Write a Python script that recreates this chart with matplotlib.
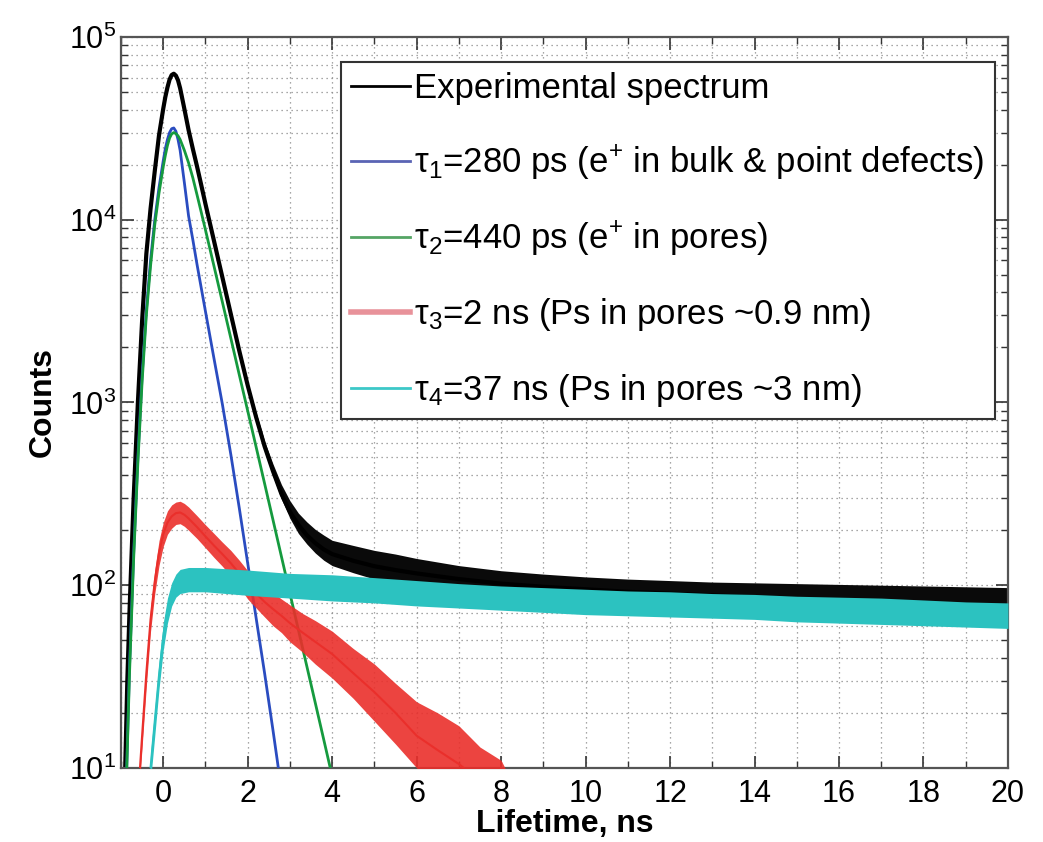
import matplotlib
matplotlib.use("Agg")
import matplotlib.pyplot as plt
from matplotlib.lines import Line2D
from matplotlib.ticker import MultipleLocator, LogLocator, NullFormatter

plt.rcParams["font.family"] = ["Liberation Sans", "DejaVu Sans"]
plt.rcParams["mathtext.fontset"] = "custom"
plt.rcParams["mathtext.rm"] = "Liberation Sans"
plt.rcParams["mathtext.it"] = "Liberation Sans:italic"
plt.rcParams["mathtext.bf"] = "Liberation Sans:bold"

# ── dados ────────────────────────────────────────────────────────────────────
# espectro experimental
t_exp = [-0.95, -0.9, -0.85, -0.8, -0.7, -0.6, -0.5, -0.4, -0.3, -0.2,
         -0.1, 0.0, 0.05, 0.1, 0.15, 0.2, 0.25, 0.3, 0.35, 0.4,
         0.5, 0.6, 0.7, 0.8, 0.9, 1.0, 1.2, 1.4, 1.6, 1.8,
         2.0, 2.2, 2.4, 2.6, 2.8, 3.0, 3.2, 3.4, 3.6, 3.8,
         4.0, 4.5, 5.0, 5.5, 6, 7, 8, 9, 10, 11,
         12, 13, 14, 15, 16, 17, 18, 19, 20]
counts_exp = [6, 10, 30, 70, 300, 1000, 2800, 6500, 11500, 18500,
              29000, 40500, 47000, 53000, 58500, 62000, 63000, 61500, 58000, 52500,
              40500, 31000, 24500, 19600, 15500, 12200, 7700, 4850, 3050, 1920,
              1240, 830, 575, 420, 315, 252, 214, 188, 170, 157,
              148, 136, 127, 121, 116, 108, 102, 98, 95, 92,
              90, 88, 86, 84, 82, 80, 78, 76, 74]
# faixa de ruído da cauda experimental
t_exp_tail = [2.2, 2.4, 2.6, 2.8, 3.0, 3.2, 3.4, 3.6, 3.8, 4.0, 4.5, 5.0, 5.5, 6.0,
              7.0, 8.0, 9.0, 10.0, 11.0, 12.0, 13.0, 14.0, 15.0, 16.0, 17.0, 18.0, 19.0, 20.0]
exp_tail_low = [790, 545, 395, 295, 232, 192, 168, 150, 137, 128, 117, 108, 102, 97,
                90, 85, 82, 79, 76, 74, 72, 70, 69, 68, 66, 64, 63, 61]
exp_tail_high = [880, 615, 460, 355, 290, 248, 222, 202, 188, 176, 165, 155, 148, 140,
                 128, 120, 115, 111, 108, 106, 104, 103, 102, 101, 100, 99, 98, 97]

# tau1 = 280 ps
t_tau1 = [-0.95, -0.9, -0.8, -0.7, -0.6, -0.5, -0.4, -0.3, -0.2, -0.1,
          0.0, 0.05, 0.1, 0.15, 0.2, 0.25, 0.3, 0.35, 0.4, 0.5,
          0.6, 0.7, 0.8, 1.0, 1.2, 1.4, 1.6, 1.8, 2.0, 2.2,
          2.4, 2.6, 2.7, 2.8]
counts_tau1 = [2, 5, 35, 150, 500, 1400, 3200, 6000, 10000, 15000,
               21000, 24500, 27500, 30000, 31500, 31800, 30500, 27500, 24000, 16000,
               10500, 7800, 5700, 3150, 1750, 980, 520, 265, 132, 66,
               33, 16, 11, 7.5]

# tau2 = 440 ps
t_tau2 = [-0.95, -0.9, -0.8, -0.7, -0.6, -0.5, -0.4, -0.3, -0.2, -0.1,
          0.0, 0.05, 0.1, 0.15, 0.2, 0.25, 0.3, 0.35, 0.4, 0.5,
          0.6, 0.7, 0.8, 0.9, 1.0, 1.2, 1.4, 1.6, 1.8, 2.0,
          2.2, 2.4, 2.6, 2.8, 3.0, 3.2, 3.4, 3.6, 3.8, 4.0]
counts_tau2 = [2, 5, 32, 140, 470, 1300, 3000, 5600, 9400, 14000,
               19500, 22500, 25500, 28000, 29500, 30000, 29600, 28800, 27500, 24000,
               20500, 17000, 13700, 11000, 8800, 5600, 3550, 2250, 1420, 900,
               570, 360, 227, 143, 90, 57, 36, 22.7, 14.3, 9]

# tau3 = 2 ns
t_tau3 = [-0.6, -0.55, -0.5, -0.4, -0.3, -0.2, -0.1, 0.0, 0.1, 0.2,
          0.3, 0.4, 0.5, 0.6, 0.8, 1.0, 1.2, 1.4, 1.6, 1.8,
          2.0, 2.2, 2.4, 2.6, 2.8, 3.0, 3.3, 3.6, 4.0, 4.5,
          5.0, 5.5, 6.0, 6.5, 7.0, 7.5, 8.0, 8.3]
counts_tau3 = [6, 10, 15, 33, 65, 105, 150, 190, 220, 238,
               248, 250, 243, 232, 208, 185, 165, 148, 132, 116,
               100, 90, 81, 74, 68, 62, 55, 49, 42, 33,
               26, 20, 15, 12.5, 10.5, 8.5, 6.5, 4.5]
tau3_low = [5, 9, 13, 28, 56, 90, 128, 163, 190, 205,
            215, 217, 210, 200, 180, 160, 142, 127, 112, 98,
            84, 75, 67, 60, 55, 49, 43, 37, 31, 24,
            18, 13.5, 10, 8, 6.5, 5, 3, 2]
tau3_high = [7, 11, 17, 38, 75, 122, 175, 220, 255, 275,
             285, 288, 280, 268, 240, 214, 192, 172, 155, 137,
             120, 108, 98, 91, 84, 78, 70, 64, 56, 45,
             37, 29, 23, 20, 17, 13, 11, 8]

# tau4 = 37 ns
t_tau4 = [-0.35, -0.3, -0.2, -0.1, 0.0, 0.1, 0.2, 0.3, 0.4, 0.6,
          1.0, 1.5, 2.0, 3.0, 4.0, 5.0, 6.0, 7.0, 8.0, 9.0,
          10.0, 11.0, 12.0, 13.0, 14.0, 15.0, 16.0, 17.0, 18.0, 19.0, 20.0]
counts_tau4 = [6, 10, 18, 32, 52, 72, 88, 98, 104, 107,
               107, 105, 103, 99, 96, 93, 90, 87, 85, 83,
               81, 79, 78, 77, 76, 74, 73, 72, 70, 69, 68]
tau4_low = [5, 8.5, 15, 27, 44, 62, 77, 86, 90, 92,
            92, 90, 88, 85, 82, 80, 77, 75, 73, 71,
            69, 68, 67, 66, 65, 63, 62, 61, 60, 59, 58]
tau4_high = [7, 12, 21, 38, 62, 85, 103, 115, 122, 125,
             125, 123, 121, 116, 114, 110, 106, 102, 99, 97,
             95, 93, 92, 90, 89, 87, 86, 85, 83, 81, 80]

labels = ["Experimental spectrum",
          "τ$_{1}$=280 ps (e$^{+}$ in bulk & point defects)",
          "τ$_{2}$=440 ps (e$^{+}$ in pores)",
          "τ$_{3}$=2 ns (Ps in pores ~0.9 nm)",
          "τ$_{4}$=37 ns (Ps in pores ~3 nm)"]

# ── cores ────────────────────────────────────────────────────────────────────
BLACK = "#000000"
BLUE = "#2a4cc0"
GREEN = "#159a3e"
RED = "#ea2f2b"
CYAN = "#2cc2c0"
LEG_COLORS = [BLACK, "#5a64b4", "#55a565", "#e8929a", "#3cc8c8"]

fig = plt.figure(figsize=(10.43, 8.42), dpi=100)
ax = fig.add_axes([0.116, 0.088, 0.8504, 0.868])

# experimental
ax.fill_between(t_exp_tail, exp_tail_low, exp_tail_high, color="#0a0a0a", lw=0, zorder=2)
ax.plot(t_exp, counts_exp, color=BLACK, lw=3.0, zorder=2)
# componentes
ax.plot(t_tau1, counts_tau1, color=BLUE, lw=2.0, zorder=3)
ax.plot(t_tau2, counts_tau2, color=GREEN, lw=2.0, zorder=3)
ax.fill_between(t_tau3, tau3_low, tau3_high, color=RED, alpha=0.9, lw=0, zorder=4)
ax.plot(t_tau3, counts_tau3, color=RED, lw=1.5, zorder=4)
ax.fill_between(t_tau4, tau4_low, tau4_high, color=CYAN, lw=0, zorder=5)
ax.plot(t_tau4, counts_tau4, color=CYAN, lw=1.5, zorder=5)

ax.set_yscale("log")
ax.set_xlim(-1, 20)
ax.set_ylim(10, 1e5)
ax.xaxis.set_major_locator(MultipleLocator(2))
ax.xaxis.set_minor_locator(MultipleLocator(1))
ax.yaxis.set_major_locator(LogLocator(base=10, numticks=10))
ax.yaxis.set_minor_locator(LogLocator(base=10, subs=range(2, 10), numticks=20))
ax.yaxis.set_minor_formatter(NullFormatter())

ax.grid(True, which="both", linestyle=(0, (1, 3)), color="#8a8a8a", lw=0.9, zorder=0)
ax.set_axisbelow(True)
ax.tick_params(which="both", direction="in", top=True, right=True,
               labelsize=22, color="#333333")
ax.tick_params(which="major", length=9, width=1.2)
ax.tick_params(which="minor", length=5, width=1.0)
ax.tick_params(axis="x", pad=8)
for sp in ax.spines.values():
    sp.set_color("#555555")
    sp.set_linewidth(1.6)

ax.set_xlabel("Lifetime, ns", fontsize=23, fontweight="bold", labelpad=0)
ax.set_ylabel("Counts", fontsize=23, fontweight="bold", labelpad=8)

handles = [Line2D([], [], color=c, lw=2.0 if i != 3 else 4) for i, c in enumerate(LEG_COLORS)]
leg = ax.legend(handles, labels, loc="upper right", bbox_to_anchor=(0.985, 0.966),
                borderaxespad=0, fontsize=25, frameon=True, fancybox=False,
                framealpha=1, edgecolor="#333333", borderpad=0.3,
                labelspacing=1.1, handlelength=1.7, handletextpad=0.1)
leg.get_frame().set_linewidth(1.5)
leg.set_zorder(10)

fig.savefig("out.png", dpi=100)
